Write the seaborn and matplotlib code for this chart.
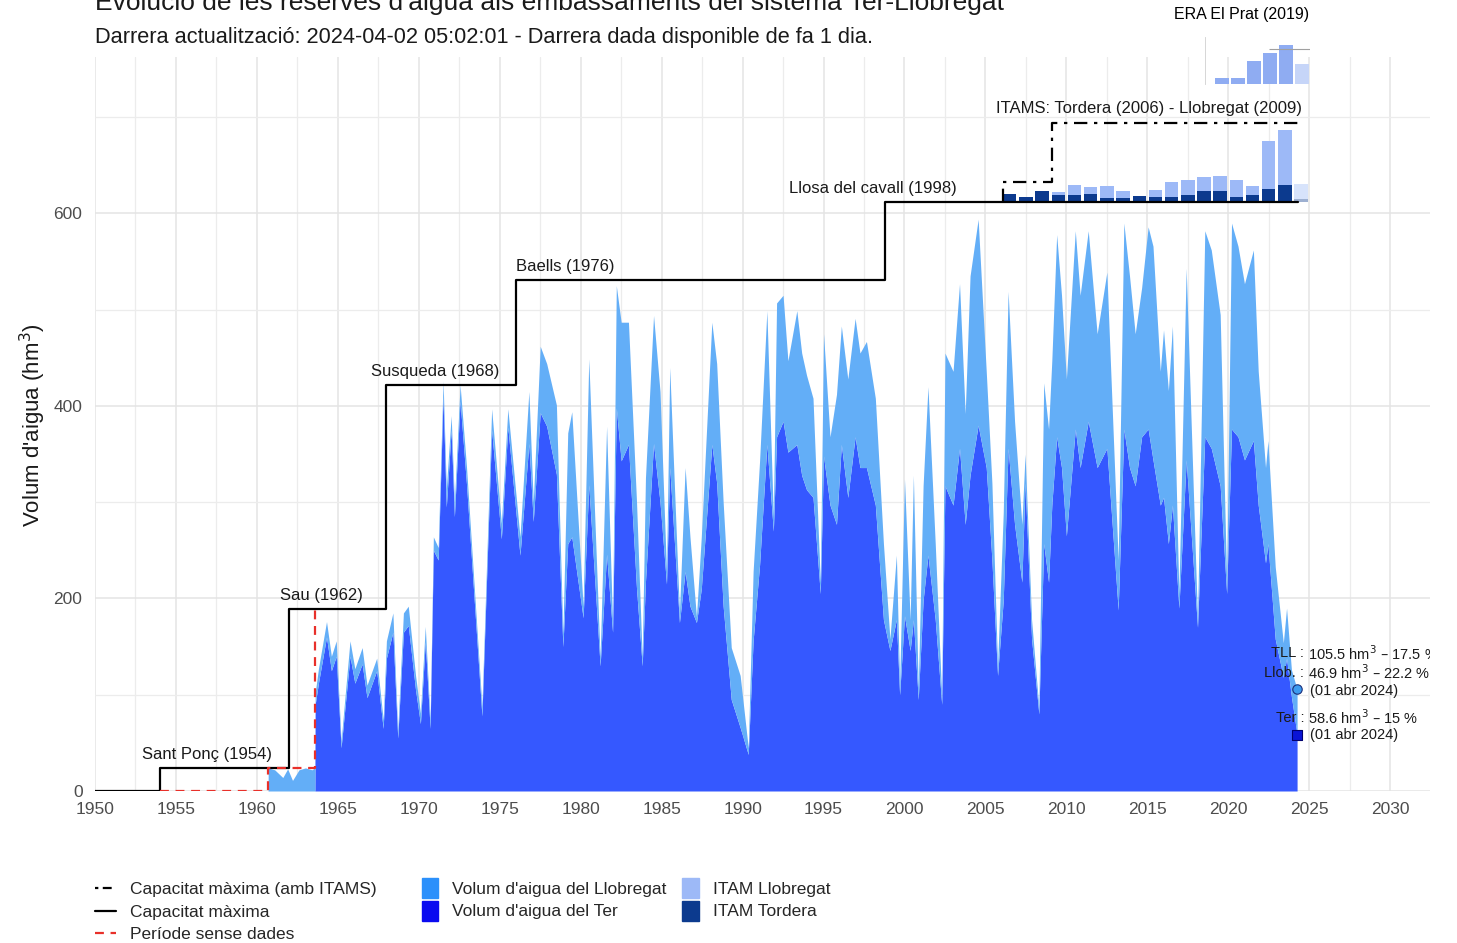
import numpy as np
import matplotlib
matplotlib.use("Agg")
import matplotlib.pyplot as plt
from matplotlib.lines import Line2D
from matplotlib.patches import Patch
from matplotlib.ticker import MultipleLocator
import seaborn as sns

sns.set_theme(style="whitegrid")
plt.rcParams["font.family"] = ["Liberation Sans", "DejaVu Sans"]

# ---- data (hm3) ----
years = [1960.69, 1960.70, 1961.1, 1961.6, 1961.9, 1962.2, 1962.6, 1963.0, 1963.4, 1963.58,
         1963.60, 1963.8, 1964.3, 1964.6, 1964.9, 1965.2, 1965.75, 1966.05, 1966.5, 1966.8,
         1967.4, 1967.8, 1968.0, 1968.4, 1968.7, 1969.05, 1969.35, 1969.8, 1970.1, 1970.4,
         1970.7, 1970.9, 1971.2, 1971.5, 1971.7, 1972.0, 1972.2, 1972.55, 1972.95, 1973.9,
         1974.5, 1975.1, 1975.5, 1976.25, 1976.8, 1977.07, 1977.5, 1977.9, 1978.5, 1978.9,
         1979.2, 1979.45, 1980.15, 1980.5, 1981.2, 1981.6, 1981.97, 1982.2, 1982.5, 1982.95,
         1983.45, 1983.8, 1984.0, 1984.5, 1984.9, 1985.3, 1985.5, 1986.1, 1986.45, 1986.75,
         1987.15, 1987.45, 1988.1, 1988.4, 1988.8, 1989.3, 1989.85, 1990.35, 1990.65, 1991.05,
         1991.5, 1991.9, 1992.1, 1992.5, 1992.8, 1993.35, 1993.65, 1993.95, 1994.35, 1994.8,
         1995.0, 1995.4, 1995.8, 1996.1, 1996.5, 1996.95, 1997.25, 1997.65, 1998.2, 1998.7,
         1999.1, 1999.5, 1999.7, 2000.0, 2000.35, 2000.55, 2000.85, 2001.15, 2001.45, 2001.9,
         2002.3, 2002.5, 2003.0, 2003.4, 2003.75, 2004.05, 2004.55, 2005.05, 2005.4, 2005.75,
         2006.1, 2006.4, 2006.8, 2007.25, 2007.45, 2007.85, 2008.3, 2008.6, 2008.9, 2009.1,
         2009.4, 2009.7, 2010.0, 2010.55, 2010.85, 2011.35, 2011.9, 2012.5, 2013.2, 2013.55,
         2013.9, 2014.25, 2014.65, 2015.05, 2015.35, 2015.8, 2016.0, 2016.3, 2016.55, 2016.95,
         2017.4, 2018.1, 2018.55, 2018.95, 2019.5, 2019.9, 2020.2, 2020.6, 2021.0, 2021.55,
         2021.85, 2022.3, 2022.45, 2022.9, 2023.4, 2023.6, 2023.9, 2024.25]
vol_total = [0, 24, 22, 14, 23, 11, 22, 24, 22, 24,
             102, 127, 176, 140, 156, 52, 156, 127, 149, 110,
             138, 74, 156, 185, 63, 185, 192, 120, 81, 171,
             74, 264, 253, 426, 314, 390, 300, 422, 336, 88,
             397, 278, 397, 264, 415, 300, 462, 444, 401, 163,
             372, 394, 192, 449, 138, 379, 174, 525, 487, 487,
             300, 138, 325, 494, 415, 228, 440, 185, 336, 264,
             181, 264, 487, 444, 300, 149, 120, 45, 228, 343,
             499, 285, 507, 515, 447, 499, 455, 432, 408, 217,
             475, 368, 412, 483, 428, 491, 455, 467, 408, 257,
             158, 245, 110, 324, 178, 328, 106, 317, 420, 257,
             98, 455, 436, 527, 392, 535, 594, 436, 320, 130,
             289, 519, 384, 277, 350, 178, 87, 424, 376, 447,
             578, 515, 428, 582, 515, 582, 475, 539, 240, 590,
             535, 475, 523, 586, 566, 436, 479, 416, 483, 205,
             543, 178, 582, 562, 495, 217, 590, 566, 527, 562,
             436, 336, 364, 233, 154, 190, 126, 105.5]
vol_ter = [0, 0, 0, 0, 0, 0, 0, 0, 0, 0,
           90, 112, 160, 125, 140, 45, 140, 112, 132, 97,
           125, 65, 138, 165, 55, 165, 172, 105, 70, 155,
           65, 250, 240, 410, 295, 375, 285, 405, 318, 78,
           375, 262, 378, 245, 361, 280, 393, 379, 329, 150,
           257, 264, 180, 318, 130, 246, 165, 398, 343, 360,
           210, 130, 217, 361, 300, 215, 336, 175, 228, 192,
           175, 210, 360, 320, 192, 95, 66, 38, 156, 235,
           360, 270, 368, 384, 352, 360, 328, 313, 305, 205,
           348, 297, 277, 360, 305, 368, 336, 336, 297, 178,
           146, 178, 100, 182, 146, 178, 95, 198, 245, 178,
           90, 317, 297, 356, 277, 328, 380, 336, 240, 120,
           198, 356, 277, 217, 320, 158, 80, 257, 217, 297,
           368, 336, 265, 376, 336, 384, 336, 356, 188, 376,
           336, 317, 368, 376, 344, 297, 305, 257, 297, 190,
           344, 170, 368, 356, 317, 205, 376, 368, 344, 364,
           297, 237, 257, 158, 118, 138, 98, 58.6]

cap_years = [1950, 1954, 1962, 1968, 1976, 1998.8, 2024.3]
cap_values = [0, 24, 189, 422, 531, 612, 612]
cap_labels = ["Sant Ponç (1954)", "Sau (1962)", "Susqueda (1968)", "Baells (1976)",
              "Llosa del cavall (1998)"]

itam_cap_years = [2006.06, 2006.06, 2009.1, 2009.1, 2024.3]
itam_cap_values = [612, 633, 633, 694, 694]

gap_years = [1954, 1960.7, 1960.7, 1963.6, 1963.6]
gap_values = [0, 0, 24, 24, 189]

itam_years = list(range(2006, 2025))
itam_tordera = [8, 5, 11, 7, 7, 8, 4.5, 4.5, 6, 5, 5, 7, 11, 11, 5, 7, 13, 18, 3]
itam_llobregat = [0, 0, 0, 3, 11, 7, 11.5, 6.5, 0, 7, 16, 15.5, 15, 16, 18, 10, 50, 57, 16]

era_values = [17, 17, 69, 94, 117, 60]

tll_pct, llob_pct, ter_pct = 17.5, 22.2, 15

# colours
c_ter = "#3558FF"
c_llob = "#63AEF7"
c_itam_llob = "#9DB9F7"
c_itam_tord = "#0C3A8E"

W, H = 1457, 943
fig = plt.figure(figsize=(W / 100, H / 100), dpi=100)
ax = fig.add_axes([95 / W, 1 - 791 / H, (1430 - 95) / W, (791 - 57) / H])
ax.set_facecolor("white")

years_a = np.array(years)
ter_a = np.array(vol_ter)
tot_a = np.array(vol_total)
ax.fill_between(years_a, 0, ter_a, color=c_ter, lw=0, zorder=2)
ax.fill_between(years_a, ter_a, tot_a, color=c_llob, lw=0, zorder=2)

# ITAM bars on top of max capacity
base = cap_values[-1]
it_x = np.array(itam_years) + 0.5
it_t = np.array(itam_tordera)
it_l = np.array(itam_llobregat)
alphas = [1.0] * (len(itam_years) - 1) + [0.4]
for x, t, l, a in zip(it_x, it_t, it_l, alphas):
    ax.bar(x, t, bottom=base, width=0.83, color=c_itam_tord, alpha=a, lw=0, zorder=3)
    ax.bar(x, l, bottom=base + t, width=0.83, color=c_itam_llob, alpha=a, lw=0, zorder=3)

# capacity lines
sns.lineplot(x=cap_years, y=cap_values, ax=ax, color="black", lw=1.6,
             drawstyle="steps-post", estimator=None, sort=False, zorder=4)
sns.lineplot(x=itam_cap_years, y=itam_cap_values, ax=ax, color="black", lw=1.6,
             estimator=None, sort=False, zorder=4, dashes=False)
ax.lines[-1].set_linestyle((0, (6, 3, 1.5, 3)))
sns.lineplot(x=gap_years, y=gap_values, ax=ax, color="#E8302A", lw=1.6,
             estimator=None, sort=False, zorder=4)
ax.lines[-1].set_linestyle((0, (4, 3)))

# dam labels
label_x = [1956.9, 1963.96, 1971.0, 1979.03, 1998.05]
for lab, lx, cv in zip(cap_labels, label_x, cap_values[1:]):
    ax.text(lx, cv + 6, lab, ha="center", va="bottom", fontsize=12, color="#1a1a1a", zorder=5)
ax.text(2015.1, itam_cap_values[-1] + 7, "ITAMS: Tordera (2006) - Llobregat (2009)",
        ha="center", va="bottom", fontsize=12, color="#1a1a1a", zorder=5)

# current values
last_x = years[-1]
ax.scatter([last_x], [vol_total[-1]], marker="o", s=46, color="#3D9BEF",
           edgecolor="#1B2F7A", lw=0.8, zorder=6)
ax.scatter([last_x], [vol_ter[-1]], marker="s", s=46, color="#0A14D6",
           edgecolor="#00006E", lw=0.8, zorder=6)
llob_now = vol_total[-1] - vol_ter[-1]
rows = [(143, "TLL :", f"{vol_total[-1]} hm$^3$ – {tll_pct} %"),
        (122.5, "Llob. :", f"{llob_now:.1f} hm$^3$ – {llob_pct} %"),
        (76, "Ter :", f"{vol_ter[-1]} hm$^3$ – {ter_pct} %")]
for ry, name, val in rows:
    ax.text(2024.68, ry, name, ha="right", va="center", fontsize=10.5, color="#1a1a1a",
            zorder=6, clip_on=True)
    ax.text(2024.93, ry, val, ha="left", va="center", fontsize=10.5, color="#1a1a1a",
            zorder=6, clip_on=True)
for ry in (104, 58):
    ax.text(2025.05, ry, "(01 abr 2024)", ha="left", va="center", fontsize=10.5,
            color="#1a1a1a", zorder=6, clip_on=True)

# axes styling
ax.set_xlim(1950, 2032.46)
ax.set_ylim(0, 762.5)
ax.xaxis.set_major_locator(MultipleLocator(5))
ax.xaxis.set_minor_locator(MultipleLocator(2.5))
ax.yaxis.set_major_locator(MultipleLocator(200))
ax.yaxis.set_minor_locator(MultipleLocator(100))
ax.grid(which="major", color="#E4E4E4", lw=1.1, zorder=0)
ax.grid(which="minor", color="#ECECEC", lw=0.9, zorder=0)
ax.set_axisbelow(True)
for s in ax.spines.values():
    s.set_visible(False)
ax.tick_params(axis="both", which="both", length=0, labelsize=12.5, labelcolor="#4D4D4D")
ax.tick_params(axis="x", pad=8)
ax.tick_params(axis="y", pad=9)
ax.set_xlabel("")
ax.set_ylabel("")

fig.text(33 / W, 1 - 425 / H, "Volum d'aigua (hm$^3$)", rotation=90, ha="center",
         va="center", fontsize=16, color="#1a1a1a")
fig.text(95 / W, 1 - 10 / H,
         "Evolució de les reserves d'aigua als embassaments del sistema Ter-Llobregat",
         ha="left", va="baseline", fontsize=19, color="#1a1a1a")
fig.text(95 / W, 1 - 43 / H,
         "Darrera actualització: 2024-04-02 05:02:01 - Darrera dada disponible de fa 1 dia.",
         ha="left", va="baseline", fontsize=15.7, color="#1a1a1a")

# legends
line_handles = [Line2D([], [], color="black", lw=1.6, ls=(0, (1.5, 2, 4, 2))),
                Line2D([], [], color="black", lw=1.6),
                Line2D([], [], color="#E8302A", lw=1.6, ls=(0, (4, 3)))]
line_labels = ["Capacitat màxima (amb ITAMS)", "Capacitat màxima", "Període sense dades"]
leg1 = fig.legend(line_handles, line_labels, loc="upper left",
                  bbox_to_anchor=(95 / W, 1 - 882 / H), frameon=False, fontsize=12.5,
                  handlelength=1.2, handletextpad=0.8, labelspacing=0.42,
                  borderaxespad=0, borderpad=0)
fill_handles = [Patch(color="#2B90FB"), Patch(color="#0A0AF0"),
                Patch(color=c_itam_llob), Patch(color=c_itam_tord)]
fill_labels = ["Volum d'aigua del Llobregat", "Volum d'aigua del Ter",
               "ITAM Llobregat", "ITAM Tordera"]
leg2 = fig.legend(fill_handles, fill_labels, loc="upper left", ncol=2,
                  bbox_to_anchor=(422 / W, 1 - 878 / H), frameon=False, fontsize=12.5,
                  handlelength=0.95, handleheight=1.4, handletextpad=0.8, labelspacing=0.15,
                  columnspacing=0.9, borderaxespad=0, borderpad=0)

# pasted ERA El Prat inset
fig.text(1242 / W, 1 - 15 / H, "ERA El Prat (2019)", ha="center", va="center",
         fontsize=11.5, color="black")
ax_in = fig.add_axes([1205 / W, 1 - 84 / H, 105 / W, 47 / H])
ax_in.patch.set_alpha(0)
era_x = np.arange(len(era_values))
era_cols = ["#8FACF2"] * 5 + ["#C6D5F8"]
ax_in.bar(era_x, era_values, width=0.85, color=era_cols, lw=0)
ax_in.hlines(104, 2.95, 5.45, color="#A0A0A0", lw=0.8)
ax_in.set_xlim(-1.04, 5.48)
ax_in.set_ylim(0, 141)
ax_in.grid(False)
ax_in.set_xticks([])
ax_in.set_yticks([])
for k, s in ax_in.spines.items():
    s.set_visible(k == "left")
ax_in.spines["left"].set_color("#D0D0D0")
ax_in.spines["left"].set_linewidth(0.6)

fig.savefig("out.png", dpi=100)
